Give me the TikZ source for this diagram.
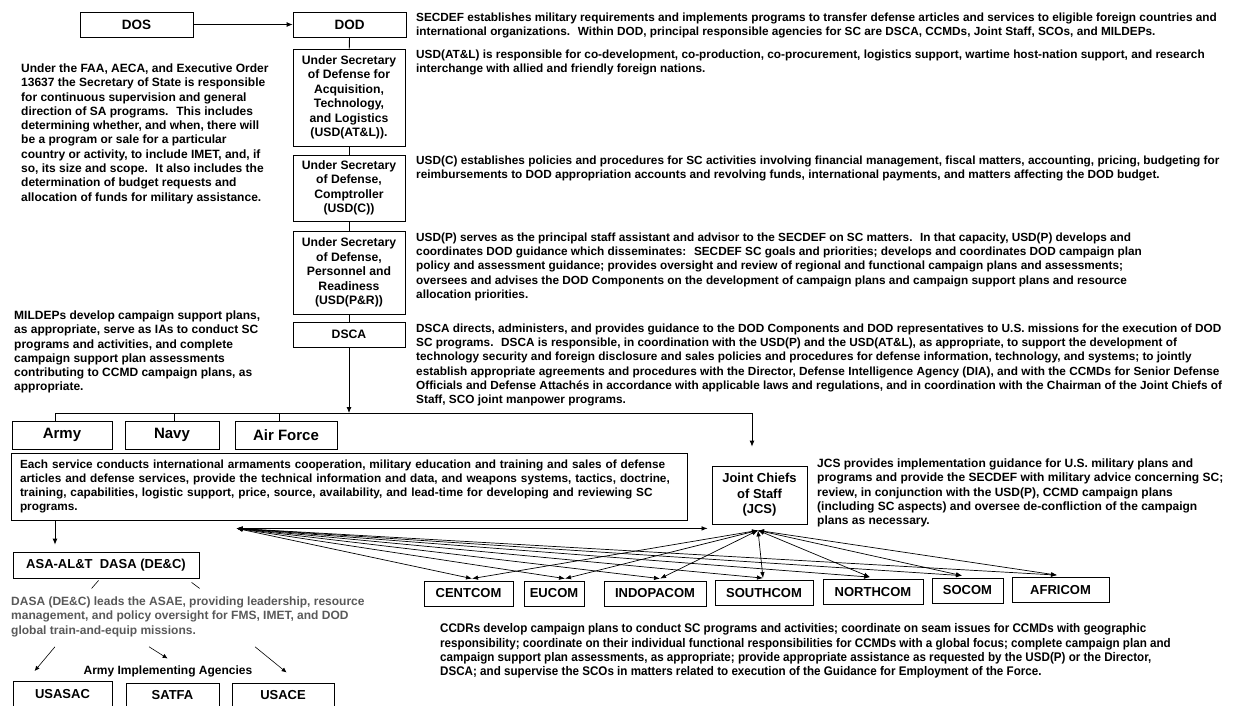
\documentclass[tikz,border=0pt]{standalone}
\usepackage{fontspec}
\setmainfont{Liberation Sans}
\newfontfamily\narrowsans[FakeStretch=0.93]{Liberation Sans}
\usetikzlibrary{arrows.meta,calc}
\definecolor{dasagray}{RGB}{89,89,89}

\begin{document}
\begin{tikzpicture}[x=1pt,y=-1pt,
    box/.style={draw=black, line width=0.8pt, inner sep=0pt, align=center,
        font=\fontsize{12.2}{14.5}\selectfont\bfseries},
    para/.style={anchor=north west, inner sep=0pt, align=left,
        font=\fontsize{12}{14.3}\selectfont\bfseries},
    widepara/.style={para, font=\fontsize{11.8}{14.3}\selectfont\bfseries},
    feed/.style={line width=0.8pt, -{Latex[length=6pt,width=5pt]}},
    fan/.style={line width=0.7pt, {Latex[length=6pt,width=4.5pt]}-{Latex[length=6pt,width=4.5pt]}},
    link/.style={line width=0.8pt}]

    \useasboundingbox (0,0) rectangle (1233,705);
    \clip (0,0) rectangle (1233,705);

    % DOS and the DOD chain
    \node[box, font=\fontsize{13.5}{16}\selectfont\bfseries, minimum width=113, minimum height=25] (dos) at (136.5,24.5) {DOS};
    \node[box, font=\fontsize{13.5}{16}\selectfont\bfseries, minimum width=113, minimum height=25] (dod) at (349.5,24.5) {DOD};
    \node[box, minimum width=112, minimum height=97] (atl) at (349,97.5) {Under Secretary\\of Defense for\\Acquisition,\\Technology,\\and Logistics\\(USD(AT\&L)).};
    \node[box, minimum width=112, minimum height=66] (comp) at (349,188) {Under Secretary\\of Defense,\\Comptroller\\(USD(C))};
    \node[box, minimum width=112, minimum height=83] (pr) at (349,272.5) {Under Secretary\\of Defense,\\Personnel and\\Readiness\\(USD(P\&R))};
    \node[box, minimum width=112, minimum height=25] (dsca) at (349,334.5) {DSCA};

    \draw[feed] (dos) -- (dod);
    \draw[link] (dod) -- (atl);
    \draw[link] (atl) -- (comp);
    \draw[link] (comp) -- (pr);
    \draw[link] (pr) -- (dsca);

    % Texts beside the chain
    \node[para] (dostxt) at (21,63.5) {Under the FAA, AECA, and Executive Order\\13637 the Secretary of State is responsible\\for continuous supervision and general\\direction of SA programs.~ This includes\\determining whether, and when, there will\\be a program or sale for a particular\\country or activity, to include IMET, and, if\\so, its size and scope.~ It also includes the\\determination of budget requests and\\allocation of funds for military assistance.};
    \node[widepara] (dodtxt) at (416,12.5) {SECDEF establishes military requirements and implements programs to transfer defense articles and services to eligible foreign countries and\\international organizations.~ Within DOD, principal responsible agencies for SC are DSCA, CCMDs, Joint Staff, SCOs, and MILDEPs.};
    \node[widepara] (atltxt) at (416,49.5) {USD(AT\&L) is responsible for co-development, co-production, co-procurement, logistics support, wartime host-nation support, and research\\interchange with allied and friendly foreign nations.};
    \node[widepara] (comptxt) at (416,155.5) {USD(C) establishes policies and procedures for SC activities involving financial management, fiscal matters, accounting, pricing, budgeting for\\reimbursements to DOD appropriation accounts and revolving funds, international payments, and matters affecting the DOD budget.};
    \node[widepara] (prtxt) at (416,232.5) {USD(P) serves as the principal staff assistant and advisor to the SECDEF on SC matters.~ In that capacity, USD(P) develops and\\coordinates DOD guidance which disseminates:~ SECDEF SC goals and priorities; develops and coordinates DOD campaign plan\\policy and assessment guidance; provides oversight and review of regional and functional campaign plans and assessments;\\oversees and advises the DOD Components on the development of campaign plans and campaign support plans and resource\\allocation priorities.};
    \node[para] (mildeptxt) at (14,310.5) {MILDEPs develop campaign support plans,\\as appropriate, serve as IAs to conduct SC\\programs and activities, and complete\\campaign support plan assessments\\contributing to CCMD campaign plans, as\\appropriate.};
    \node[widepara] (dscatxt) at (416,323.5) {DSCA directs, administers, and provides guidance to the DOD Components and DOD representatives to U.S. missions for the execution of DOD\\SC programs.~ DSCA is responsible, in coordination with the USD(P) and the USD(AT\&L), as appropriate, to support the development of\\technology security and foreign disclosure and sales policies and procedures for defense information, technology, and systems; to jointly\\establish appropriate agreements and procedures with the Director, Defense Intelligence Agency (DIA), and with the CCMDs for Senior Defense\\Officials and Defense Attachés in accordance with applicable laws and regulations, and in coordination with the Chairman of the Joint Chiefs of\\Staff, SCO joint manpower programs.};

    % MILDEPs
    \node[box, font=\fontsize{15}{18}\selectfont\bfseries, minimum width=100, minimum height=28] (army) at (62,435) {Army};
    \node[box, font=\fontsize{15}{18}\selectfont\bfseries, minimum width=94, minimum height=28] (navy) at (172,435) {Navy};
    \node[box, font=\fontsize{15}{18}\selectfont\bfseries, minimum width=102, minimum height=28] (airforce) at (286,435) {Air Force};
    \node[box, align=left, text width=658, inner xsep=9pt, minimum width=676, minimum height=67,
        font=\fontsize{11.8}{14.3}\selectfont\bfseries] (svc) at (349,486.5) {Each service conducts international armaments cooperation, military education and training and sales of defense\\articles and defense services, provide the technical information and data, and weapons systems, tactics, doctrine,\\training, capabilities, logistic support, price, source, availability, and lead-time for developing and reviewing SC\\programs.};

    \coordinate (armyx) at (55,413);
    \coordinate (navyx) at (174,413);
    \coordinate (airx) at (279,413);
    \coordinate (busend) at (752,413);
    \draw[feed] (dsca) -- (dsca.south |- busend);
    \draw[link] (armyx) -- (busend);
    \draw[link] (armyx) -- (army.north -| armyx);
    \draw[link] (navyx) -- (navy.north -| navyx);
    \draw[link] (airx) -- (airforce.north -| airx);

    % JCS
    \node[box, font=\fontsize{13}{15.5}\selectfont\bfseries, minimum width=95, minimum height=58] (jcs) at (759.5,495) {Joint Chiefs\\of Staff\\(JCS)};
    \node[para] (jcstxt) at (817,458.5) {JCS provides implementation guidance for U.S. military plans and\\programs and provide the SECDEF with military advice concerning SC;\\review, in conjunction with the USD(P), CCMD campaign plans\\(including SC aspects) and oversee de-confliction of the campaign\\plans as necessary.};
    \draw[feed, shorten >=19pt] (busend) -- (jcs.north -| busend);

    % Army implementing agencies
    \node[box, font=\fontsize{13}{16}\selectfont\bfseries, minimum width=186, minimum height=26] (asa) at (106,565) {ASA-AL\&T~~DASA (DE\&C)};
    \draw[feed, shorten >=7pt] (svc.south -| armyx) -- (asa.north -| armyx);
    \node[para, text=dasagray] (dasatxt) at (11,596.5) {DASA (DE\&C) leads the ASAE, providing leadership, resource\\management, and policy oversight for FMS, IMET, and DOD\\global train-and-equip missions.};
    \draw[link, line width=0.6pt] ($(asa.south west)+(86,2)$) -- ($(asa.south west)+(79,10)$);
    \draw[link, line width=0.6pt] ($(asa.south west)+(179,4)$) -- ($(asa.south west)+(187,10)$);

    \node[font=\fontsize{12}{14}\selectfont\bfseries, inner sep=0pt] (iatitle) at (168,671) {Army Implementing Agencies};
    \node[box, font=\fontsize{13}{16}\selectfont\bfseries, anchor=north, minimum width=99, text height=14pt, text depth=20pt, inner ysep=3pt] (usasac) at (62.5,681) {USASAC};
    \node[box, font=\fontsize{13}{16}\selectfont\bfseries, anchor=north, minimum width=93, text height=14pt, text depth=20pt, inner ysep=3pt] (satfa) at (172.5,682.5) {SATFA};
    \node[box, font=\fontsize{13}{16}\selectfont\bfseries, anchor=north, minimum width=102, text height=14pt, text depth=20pt, inner ysep=3pt] (usace) at (283,682.5) {USACE};
    \draw[line width=0.6pt, -{Latex[length=5pt,width=4.5pt]}] ($(dasatxt.south west)+(44,10)$) -- ($(usasac.north west)+(22,-10)$);
    \draw[line width=0.6pt, -{Latex[length=5pt,width=4.5pt]}] ($(dasatxt.south west)+(138,10)$) -- ($(satfa.north west)+(42,-24)$);
    \draw[line width=0.6pt, -{Latex[length=5pt,width=4.5pt]}] ($(dasatxt.south west)+(244,10)$) -- ($(usace.north west)+(55,-10)$);

    % Combatant commands
    \foreach \name/\lbl/\cx/\cy/\w in {centcom/CENTCOM/468.5/593.5/89, eucom/EUCOM/554/593.5/60,
        indopacom/INDOPACOM/655/593.5/102, southcom/SOUTHCOM/764/593/98, northcom/NORTHCOM/873/592/100,
        socom/SOCOM/967.5/590.5/71, africom/AFRICOM/1060.5/590/97} {
        \node[box, font=\fontsize{13}{16}\selectfont\bfseries, minimum width=\w, minimum height=25] (\name) at (\cx,\cy) {\lbl};
    }

    % Links to the CCMDs
    \coordinate (svchub) at ($(svc.south west)+(226,8)$);
    \coordinate (jcshub) at ($(jcs.south)+(-1.5,6)$);
    \draw[fan, shorten >=4pt] (svchub) -- (jcs.west |- svchub);
    \foreach \name/\dx in {centcom/3.5, eucom/11, indopacom/5, southcom/-1, northcom/-3, socom/-5.5, africom/-3.5} {
        \draw[fan] (svchub) -- ($(\name.north)+(\dx,-2)$);
        \draw[fan] (jcshub) -- ($(\name.north)+(\dx,-2)$);
    }

    \node[para, font=\fontsize{12.5}{14.4}\selectfont\narrowsans\bfseries] (ccdrtxt) at (440,623.5) {CCDRs develop campaign plans to conduct SC programs and activities; coordinate on seam issues for CCMDs with geographic\\responsibility; coordinate on their individual functional responsibilities for CCMDs with a global focus; complete campaign plan and\\campaign support plan assessments, as appropriate; provide appropriate assistance as requested by the USD(P) or the Director,\\DSCA; and supervise the SCOs in matters related to execution of the Guidance for Employment of the Force.};
\end{tikzpicture}
\end{document}
